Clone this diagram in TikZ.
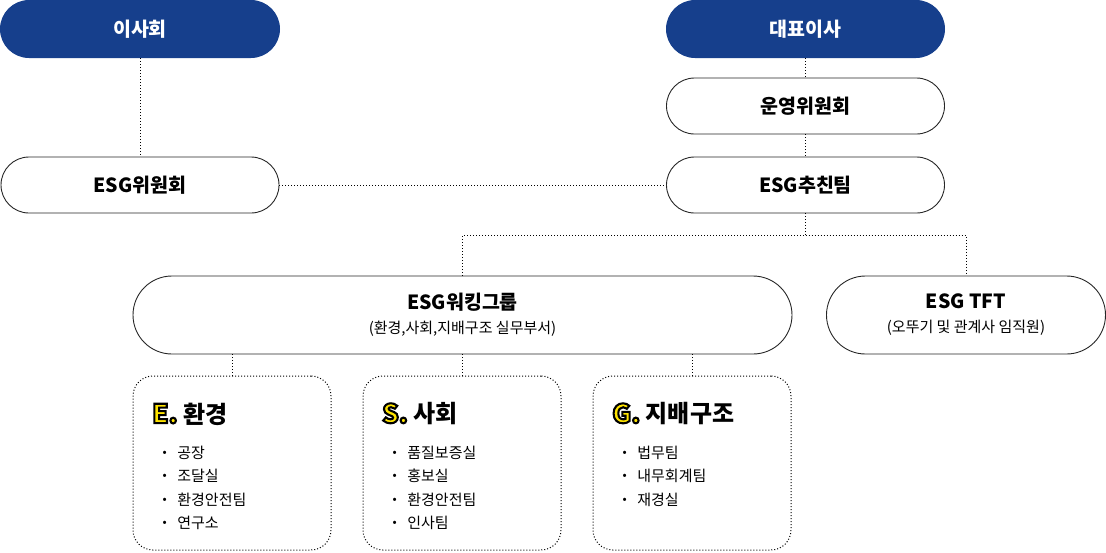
\documentclass[tikz,border=0pt]{standalone}
\usepackage{fontspec}
\setmainfont{Noto Sans CJK KR}
\definecolor{navy}{HTML}{163F8C}
\newcommand{\esgmark}[1]{\special{pdf:bcolor [1 0.894 0] [0 0 0]}{\fontsize{26}{28}\selectfont\addfontfeature{FakeBold=8}#1}\special{pdf:ecolor}}
\newcommand{\dotitem}{\textbf{·}\hspace{8pt}}

\begin{document}
\begin{tikzpicture}[x=1pt,y=-1pt,
  pill/.style={draw=black!85,line width=0.9pt,rounded corners=28pt,minimum width=278pt,minimum height=56pt,inner sep=0pt,font=\fontsize{19.5}{23}\selectfont\bfseries},
  toppill/.style={pill,draw=none,fill=navy,text=white,minimum height=58pt,rounded corners=29pt},
  widepill/.style={pill,minimum height=78pt,rounded corners=39pt,align=center},
  card/.style={draw=black,line width=1pt,dash pattern=on 1pt off 2pt,rounded corners=20pt,minimum width=198pt,minimum height=174pt},
  link/.style={black,line width=1pt,dash pattern=on 1pt off 2pt},
  cardhead/.style={anchor=west,inner sep=0pt,font=\fontsize{24}{28}\selectfont\bfseries},
  cardlist/.style={anchor=north west,inner sep=0pt,align=left,font=\fontsize{15}{23.3}\selectfont}]
  \useasboundingbox (0,0) rectangle (1106,552);
  \node[toppill,minimum width=280pt] (board) at (140,29) {이사회};
  \node[toppill,minimum width=279pt] (ceo) at (805.5,29) {대표이사};
  \node[pill] (opcom) at (805.5,106) {운영위원회};
  \node[pill] (team) at (805.5,185) {ESG추친팀};
  \node[pill] (esgcom) at (140,185) {ESG위원회};
  \node[widepill,minimum width=659pt] (wg) at (462.5,315) {ESG워킹그룹\\[1pt]{\fontsize{15}{17}\selectfont\mdseries (환경,사회,지배구조 실무부서)}};
  \node[widepill,minimum width=279pt] (tft) at (966,315) {ESG TFT\\[1pt]{\fontsize{15}{17}\selectfont\mdseries (오뚜기 및 관계사 임직원)}};
  \node[card] (ecard) at (232,463) {};
  \node[card] (scard) at (462,463) {};
  \node[card] (gcard) at (692,463) {};
  \node[cardhead] (ehead) at (152,414) {\esgmark{E.} 환경};
  \node[cardhead] (shead) at (382,414) {\esgmark{S.} 사회};
  \node[cardhead] (ghead) at (612,414) {\esgmark{G.} 지배구조};
  \node[cardlist] (elist) at (160,446) {\dotitem 공장\\\dotitem 조달실\\\dotitem 환경안전팀\\\dotitem 연구소};
  \node[cardlist] (slist) at (390,446) {\dotitem 품질보증실\\\dotitem 홍보실\\\dotitem 환경안전팀\\\dotitem 인사팀};
  \node[cardlist] (glist) at (620,446) {\dotitem 법무팀\\\dotitem 내무회계팀\\\dotitem 재경실};
  \draw[link] (board) -- (esgcom);
  \draw[link] (ceo) -- (opcom);
  \draw[link] (opcom) -- (team);
  \draw[link] (esgcom) -- (team);
  \draw[link] (team.south) -- ++(0,22) coordinate (fork) -| (wg.north);
  \draw[link] (fork) -| (tft.north);
  \foreach \c in {ecard,scard,gcard}
    \draw[link] (wg.south -| \c.north) -- (\c.north);
\end{tikzpicture}
\end{document}
